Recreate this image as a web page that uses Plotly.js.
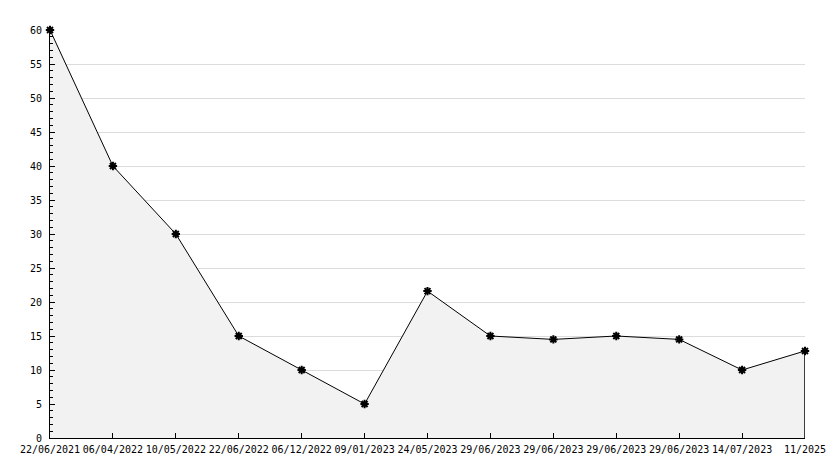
<!DOCTYPE html>
<html>
<head>
<meta charset="utf-8">
<script src="https://cdn.plot.ly/plotly-3.0.1.min.js"></script>
<style>html,body{margin:0;padding:0;background:#fff;}#chart{width:834px;height:468px;}</style>
</head>
<body>
<div id="chart"></div>
<script>
const dates = ["22/06/2021","06/04/2022","10/05/2022","22/06/2022","06/12/2022","09/01/2023","24/05/2023","29/06/2023","29/06/2023","29/06/2023","29/06/2023","14/07/2023","11/2025"];
const values = [60, 40, 30, 15, 10, 5, 21.6, 15, 14.5, 15, 14.5, 10, 12.8];
const idx = dates.map((d, i) => i);
const lastI = idx[idx.length - 1];
const lastV = values[values.length - 1];

const traces = [
  {x: idx, y: values, type: 'scatter', mode: 'lines+markers', fill: 'tozeroy',
   fillcolor: '#f2f2f2', line: {color: '#000', width: 1},
   marker: {symbol: 'asterisk-open', size: 7, color: '#000', line: {color: '#000', width: 2}},
   hoverinfo: 'skip', cliponaxis: false},
  {x: [lastI, lastI], y: [0, lastV], type: 'scatter', mode: 'lines',
   line: {color: '#000', width: 1.5}, hoverinfo: 'skip'}
];

const font = {family: 'DejaVu Sans Mono, monospace', size: 10, color: '#000'};
const layout = {
  width: 834, height: 468,
  margin: {l: 50, r: 29, t: 30, b: 30},
  paper_bgcolor: '#fff', plot_bgcolor: '#fff',
  showlegend: false, font: font,
  xaxis: {range: [0, lastI], tickmode: 'array', tickvals: idx, ticktext: dates,
    ticks: 'inside', ticklen: 5, tickcolor: '#000', showgrid: false, zeroline: false,
    showline: true, linecolor: '#000', linewidth: 1, tickfont: font, tickangle: 0, automargin: false,
    ticklabelstandoff: 2},
  yaxis: {range: [0, 60], dtick: 5, tick0: 0, ticks: 'inside', ticklen: 5, tickcolor: '#000',
    showgrid: true, gridcolor: '#dcdcdc', gridwidth: 1, zeroline: false,
    showline: true, linecolor: '#000', linewidth: 1, tickfont: font, automargin: false,
    ticklabelstandoff: 5,
    minor: {dtick: 1, ticks: 'inside', ticklen: 3, tickcolor: '#000', showgrid: false}}
};
Plotly.newPlot('chart', traces, layout, {staticPlot: true, displayModeBar: false});
</script>
</body>
</html>
